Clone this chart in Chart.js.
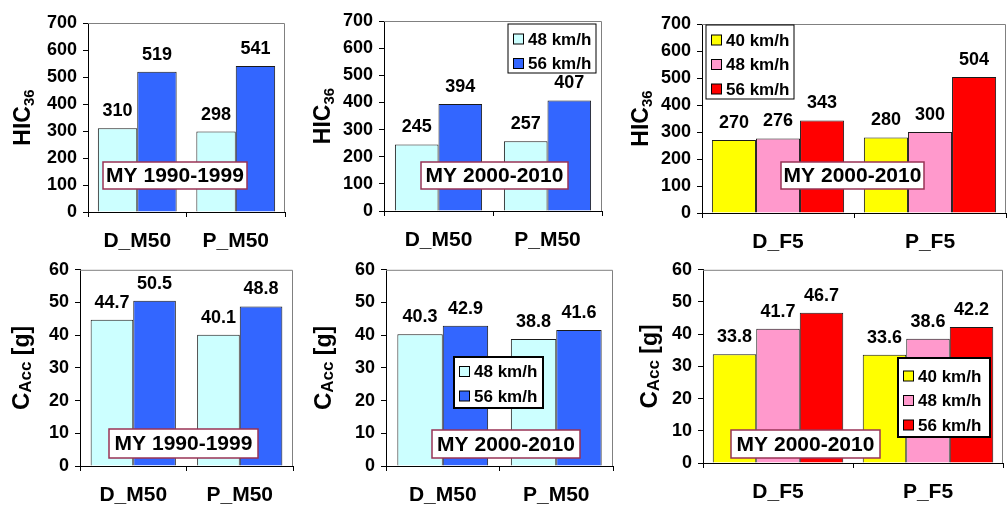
<!DOCTYPE html>
<html>
<head>
<meta charset="utf-8">
<script src="https://cdn.jsdelivr.net/npm/chart.js@4.4.0/dist/chart.umd.min.js"></script>
<style>
html, body { margin: 0; padding: 0; background: #fff; }
#page { position: relative; width: 1008px; height: 506px; overflow: hidden; }
.cell { position: absolute; }
</style>
</head>
<body>
<div id="page"></div>
<script>
const FONT = '"Liberation Sans", Arial, sans-serif';

// categories
const catsM = ['D_M50', 'P_M50'];
const catsF = ['D_F5', 'P_F5'];
const speeds2 = ['48 km/h', '56 km/h'];
const speeds3 = ['40 km/h', '48 km/h', '56 km/h'];

// HIC36 values
const hic9099_48 = [310, 298];
const hic9099_56 = [519, 541];
const hic0010_48 = [245, 257];
const hic0010_56 = [394, 407];
const hicF5_40 = [270, 280];
const hicF5_48 = [276, 300];
const hicF5_56 = [343, 504];

// CAcc values [g]
const acc9099_48 = [44.7, 40.1];
const acc9099_56 = [50.5, 48.8];
const acc0010_48 = [40.3, 38.8];
const acc0010_56 = [42.9, 41.6];
const accF5_40 = [33.8, 33.6];
const accF5_48 = [41.7, 38.6];
const accF5_56 = [46.7, 42.2];

// axis ranges
const hicMax = 700, hicStep = 100;
const accMax = 60, accStep = 10;

const note9099 = 'MY 1990-1999';
const note0010 = 'MY 2000-2010';

const colors2 = ['#CCFFFF', '#3366FF'];
const colors3 = ['#FFFF00', '#FF99CC', '#FF0000'];

const titleHIC = [{ t: 'HIC', s: 23, dy: 0 }, { t: '36', s: 15, dy: 4 }];
const titleAcc = [{ t: 'C', s: 24, dy: 0 }, { t: 'Acc', s: 17, dy: 2 }, { t: ' [g]', s: 23, dy: 0 }];

// page grid
const cols = [[0, 298], [298, 620], [620, 1008]];
const rows = [[0, 253], [253, 506]];

const panels = [
    { col: 0, row: 0, labels: catsM, series: [hic9099_48, hic9099_56], names: speeds2, colors: colors2,
      max: hicMax, step: hicStep, dec: 0, catPct: 0.8, area: [88, 23, 285, 212], titleX: 22, title: titleHIC,
      note: note9099, noteBox: [103, 162, 247, 189] },
    { col: 1, row: 0, labels: catsM, series: [hic0010_48, hic0010_56], names: speeds2, colors: colors2,
      max: hicMax, step: hicStep, dec: 0, catPct: 0.8, area: [384, 21, 602, 211], titleX: 322, title: titleHIC,
      note: note0010, noteBox: [421, 162, 568, 189], legend: [508, 24, 596, 73, 15, 1] },
    { col: 2, row: 0, labels: catsF, series: [hicF5_40, hicF5_48, hicF5_56], names: speeds3, colors: colors3,
      max: hicMax, step: hicStep, dec: 0, catPct: 0.87, area: [702, 24, 1006, 213], titleX: 640, title: titleHIC,
      note: note0010, noteBox: [781, 162, 924, 189], legend: [706, 25, 794, 99, 15, 1] },
    { col: 0, row: 1, labels: catsM, series: [acc9099_48, acc9099_56], names: speeds2, colors: colors2,
      max: accMax, step: accStep, dec: 1, catPct: 0.8, area: [80, 267, 293, 466], titleX: 21, title: titleAcc,
      note: note9099, noteBox: [109, 429, 258, 458] },
    { col: 1, row: 1, labels: catsM, series: [acc0010_48, acc0010_56], names: speeds2, colors: colors2,
      max: accMax, step: accStep, dec: 1, catPct: 0.8, area: [386, 267, 613, 466], titleX: 323, title: titleAcc,
      note: note0010, noteBox: [432, 430, 580, 458], legend: [454, 357, 543, 408, 14.5, 2] },
    { col: 2, row: 1, labels: catsF, series: [accF5_40, accF5_48, accF5_56], names: speeds3, colors: colors3,
      max: accMax, step: accStep, dec: 1, catPct: 0.87, area: [703, 267, 1003, 463], titleX: 649, title: titleAcc,
      note: note0010, noteBox: [731, 430, 880, 458], legend: [898, 358, 990, 437, 18, 2] }
];

function decor(p) {
    const x0 = cols[p.col][0];
    const y0 = rows[p.row][0];
    return {
        id: 'decor',
        afterDatasetsDraw(chart) {
            const ctx = chart.ctx;
            const a = chart.chartArea;
            ctx.save();

            // plot area border (top and right)
            ctx.strokeStyle = '#808080';
            ctx.lineWidth = 1;
            ctx.beginPath();
            ctx.moveTo(a.left, a.top + 0.5);
            ctx.lineTo(a.right - 0.5, a.top + 0.5);
            ctx.lineTo(a.right - 0.5, a.bottom);
            ctx.stroke();

            // value labels above the bars
            ctx.fillStyle = '#000';
            ctx.font = 'bold 18px ' + FONT;
            ctx.textAlign = 'center';
            ctx.textBaseline = 'middle';
            chart.data.datasets.forEach((ds, i) => {
                chart.getDatasetMeta(i).data.forEach((bar, j) => {
                    ctx.fillText(ds.data[j].toFixed(p.dec), bar.x, bar.y - 17);
                });
            });

            // y axis title with subscript
            ctx.save();
            ctx.translate(p.titleX - x0, (a.top + a.bottom) / 2);
            ctx.rotate(-Math.PI / 2);
            ctx.textAlign = 'left';
            ctx.textBaseline = 'alphabetic';
            let total = 0;
            p.title.forEach(part => {
                ctx.font = 'bold ' + part.s + 'px ' + FONT;
                total += ctx.measureText(part.t).width;
            });
            let tx = -total / 2;
            p.title.forEach(part => {
                ctx.font = 'bold ' + part.s + 'px ' + FONT;
                ctx.fillText(part.t, tx, 8 + part.dy);
                tx += ctx.measureText(part.t).width;
            });
            ctx.restore();

            // model year box
            const nb = p.noteBox;
            ctx.fillStyle = '#fff';
            ctx.fillRect(nb[0] - x0, nb[1] - y0, nb[2] - nb[0], nb[3] - nb[1]);
            ctx.strokeStyle = '#993355';
            ctx.lineWidth = 1.5;
            ctx.strokeRect(nb[0] - x0, nb[1] - y0, nb[2] - nb[0], nb[3] - nb[1]);
            ctx.fillStyle = '#000';
            ctx.font = 'bold 21px ' + FONT;
            ctx.textAlign = 'center';
            ctx.textBaseline = 'middle';
            ctx.fillText(p.note, (nb[0] + nb[2]) / 2 - x0, (nb[1] + nb[3]) / 2 - y0 + 1);

            // legend
            if (p.legend) {
                const lg = p.legend;
                const lx = lg[0] - x0, ly = lg[1] - y0;
                ctx.fillStyle = '#fff';
                ctx.fillRect(lx, ly, lg[2] - lg[0], lg[3] - lg[1]);
                ctx.strokeStyle = '#000';
                ctx.lineWidth = lg[5];
                ctx.strokeRect(lx, ly, lg[2] - lg[0], lg[3] - lg[1]);
                ctx.font = 'bold 17px ' + FONT;
                ctx.textAlign = 'left';
                ctx.textBaseline = 'middle';
                p.names.forEach((name, i) => {
                    const cy = ly + lg[4] + i * 24.5;
                    ctx.fillStyle = p.colors[i];
                    ctx.fillRect(lx + 5.5, cy - 5, 10, 10);
                    ctx.strokeStyle = '#000';
                    ctx.lineWidth = 1;
                    ctx.strokeRect(lx + 5.5, cy - 5, 10, 10);
                    ctx.fillStyle = '#000';
                    ctx.fillText(name, lx + 20, cy + 1);
                });
            }
            ctx.restore();
        }
    };
}

function drawPanel(p) {
    const [cx0, cx1] = cols[p.col];
    const [ry0, ry1] = rows[p.row];
    const div = document.createElement('div');
    div.className = 'cell';
    div.style.left = cx0 + 'px';
    div.style.top = ry0 + 'px';
    div.style.width = (cx1 - cx0) + 'px';
    div.style.height = (ry1 - ry0) + 'px';
    const canvas = document.createElement('canvas');
    div.appendChild(canvas);
    document.getElementById('page').appendChild(div);

    new Chart(canvas, {
        type: 'bar',
        data: {
            labels: p.labels,
            datasets: p.series.map((s, i) => ({
                label: p.names[i],
                data: s,
                backgroundColor: p.colors[i],
                borderColor: '#1a1a1a',
                borderWidth: 1,
                barPercentage: 1,
                categoryPercentage: p.catPct
            }))
        },
        options: {
            responsive: true,
            maintainAspectRatio: false,
            animation: false,
            layout: { padding: { left: 0, top: p.area[1] - ry0, right: cx1 - p.area[2], bottom: 0 } },
            plugins: { legend: { display: false }, tooltip: { enabled: false } },
            scales: {
                x: {
                    afterFit: s => { s.height = ry1 - p.area[3]; },
                    grid: { display: true, drawOnChartArea: false, tickLength: 5, color: '#000' },
                    border: { color: '#000', width: 1 },
                    ticks: { color: '#000', font: { size: 21, weight: 'bold', family: FONT }, padding: 12, maxRotation: 0 }
                },
                y: {
                    min: 0,
                    max: p.max,
                    afterFit: s => { s.width = p.area[0] - cx0; },
                    grid: { drawOnChartArea: false, tickLength: 5, color: '#000' },
                    border: { color: '#000', width: 1 },
                    ticks: { stepSize: p.step, color: '#000', font: { size: 18, weight: 'bold', family: FONT }, padding: 6 }
                }
            }
        },
        plugins: [decor(p)]
    });
}

panels.forEach(drawPanel);
</script>
</body>
</html>
